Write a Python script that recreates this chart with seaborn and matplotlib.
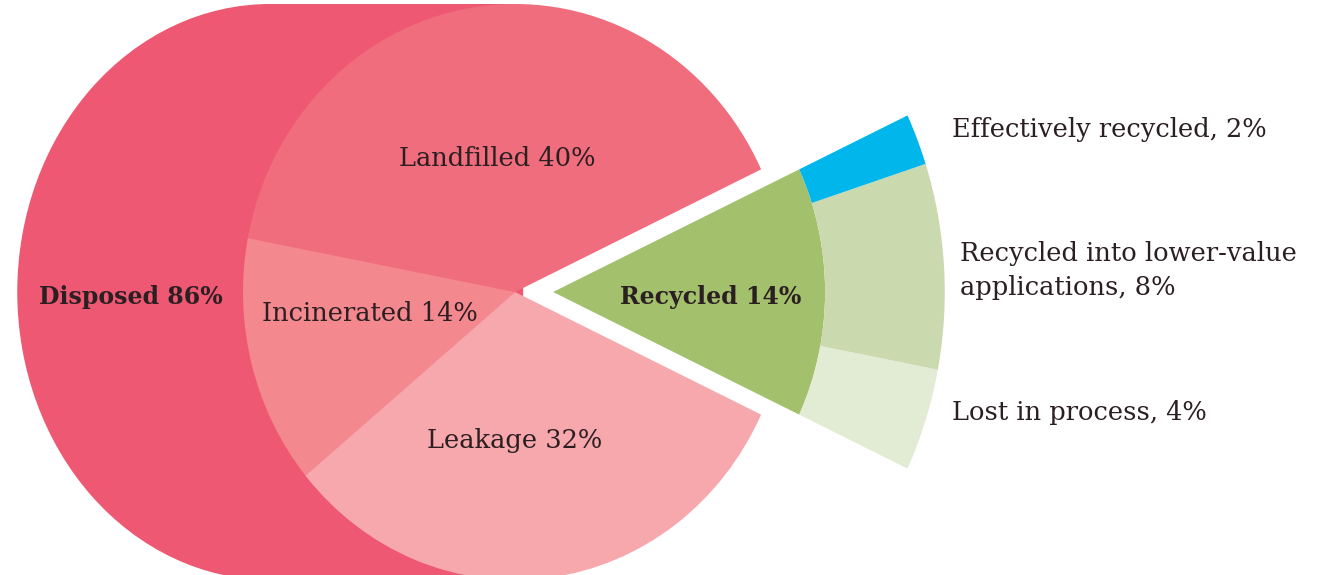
import numpy as np
import matplotlib
matplotlib.use("Agg")
import matplotlib.pyplot as plt
from matplotlib.patches import Ellipse, Rectangle
import seaborn as sns

# data
disposed_label = "Disposed 86%"
main_labels = ["Landfilled 40%", "Incinerated 14%", "Leakage 32%"]
main_values = [40, 14, 32]
recycled_label = "Recycled 14%"
recycled_value = 14
sub_labels = ["Lost in process, 4%",
              "Recycled into lower-value\napplications, 8%",
              "Effectively recycled, 2%"]
sub_values = [4, 8, 2]

disposed_color = "#ef5873"
main_colors = ["#f06d7e", "#f4888f", "#f7a8ad"]
recycled_color = "#a3c06c"
sub_colors = ["#e2ebd4", "#cbd9af", "#00b6ea"]

sns.set_theme(style="white")
plt.rcParams['font.family'] = ['DejaVu Serif']

fig = plt.figure(figsize=(13.2, 5.75), dpi=100)
ax = fig.add_axes([0, 0, 1, 1])

# big "disposed" backdrop: half ellipse plus a block up to the pie centre
ax.add_patch(Ellipse((-0.90, 0), 1.86, 2.0, color=disposed_color, lw=0, zorder=0))
ax.add_patch(Rectangle((-0.90, -1.0), 0.90, 2.0, color=disposed_color, lw=0, zorder=0))

half = recycled_value * 3.6 / 2
ax.pie(np.array(main_values) / 100, normalize=False, startangle=half,
       colors=main_colors, radius=1.0, wedgeprops=dict(linewidth=0))

# exploded recycled wedge and its breakdown ring
shift = (0.14, 0)
ax.pie([recycled_value / 100], normalize=False, startangle=-half,
       colors=[recycled_color], radius=1.0, center=shift,
       wedgeprops=dict(linewidth=0))
ax.pie(np.array(sub_values) / 100, normalize=False, startangle=-half,
       colors=sub_colors, radius=1.44, center=shift,
       wedgeprops=dict(width=0.44, linewidth=0))

txt = dict(color="#2b1f22", va="center")
ax.text(-1.412, -0.017, disposed_label, ha="center", fontsize=17, fontweight="bold", **txt)
ax.text(-0.066, 0.465, main_labels[0], ha="center", fontsize=18.5, **txt)
ax.text(-0.533, -0.073, main_labels[1], ha="center", fontsize=18.5, **txt)
ax.text(0.0, -0.517, main_labels[2], ha="center", fontsize=18.5, **txt)
ax.text(0.721, -0.017, recycled_label, ha="center", fontsize=17, fontweight="bold", **txt)
ax.text(1.607, 0.5625, sub_labels[2], ha="left", fontsize=18.5, **txt)
ax.text(1.636, 0.073, sub_labels[1], ha="left", fontsize=18.5, linespacing=1.45, **txt)
ax.text(1.607, -0.417, sub_labels[0], ha="left", fontsize=18.5, **txt)

# reference is slightly squashed horizontally: 272 px per unit in x, 288 in y
ax.set_xlim(-515 / 272, (1320 - 515) / 272)
ax.set_ylim(-(575 - 292) / 288, 292 / 288)
ax.set_aspect("auto")
ax.axis("off")

fig.savefig("out.png", dpi=100, facecolor="white")
